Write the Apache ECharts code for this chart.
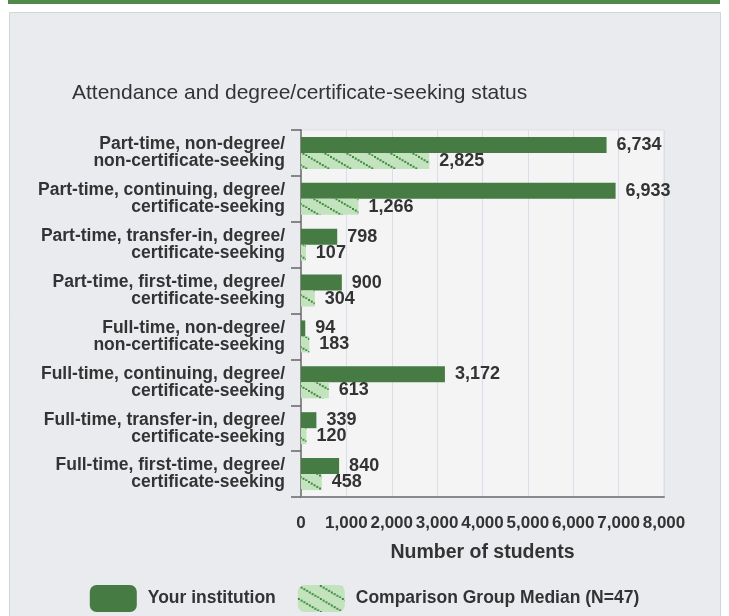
<!DOCTYPE html>
<html>
<head>
<meta charset="utf-8">
<script src="https://cdn.jsdelivr.net/npm/echarts@6/dist/echarts.min.js"></script>
<style>
  html, body { margin: 0; padding: 0; background: #ffffff; }
  #chart { width: 729px; height: 616px; }
</style>
</head>
<body>
<div id="chart"></div>
<script>
  // categories, top to bottom
  var categories = [
    'Part-time, non-degree/\nnon-certificate-seeking',
    'Part-time, continuing, degree/\ncertificate-seeking',
    'Part-time, transfer-in, degree/\ncertificate-seeking',
    'Part-time, first-time, degree/\ncertificate-seeking',
    'Full-time, non-degree/\nnon-certificate-seeking',
    'Full-time, continuing, degree/\ncertificate-seeking',
    'Full-time, transfer-in, degree/\ncertificate-seeking',
    'Full-time, first-time, degree/\ncertificate-seeking'
  ]
  var institutionValues = [6734, 6933, 798, 900, 94, 3172, 339, 840]
  var medianValues = [2825, 1266, 107, 304, 183, 613, 120, 458]
  var seriesNames = ['Your institution', 'Comparison Group Median (N=47)']

  var font = '"Liberation Sans", Arial, sans-serif'

  // hatched fill for the comparison bars
  function makeHatch() {
    var c = document.createElement('canvas')
    c.width = 22
    c.height = 13
    var ctx = c.getContext('2d')
    ctx.fillStyle = '#c3e3bf'
    ctx.fillRect(0, 0, 22, 13)
    ctx.fillStyle = '#3f8a3c'
    for (var k = 0; k < 8; k++) {
      var x = k * 22 / 8
      var y = k * 13 / 8
      ctx.fillRect(x, y, 2, 2)
    }
    return c
  }

  var chart = echarts.init(document.getElementById('chart'))

  var valueLabel = {
    show: true,
    position: 'right',
    distance: 10,
    color: '#333',
    fontFamily: font,
    fontWeight: 'bold',
    fontSize: 18,
    formatter: function (p) {
      return p.value.toLocaleString('en-US')
    }
  }

  chart.setOption({
    animation: false,
    graphic: [
      {
        type: 'rect', z: -10,
        shape: {x: 8, y: 0, width: 712, height: 4},
        style: {fill: '#4f8a4b'}
      },
      {
        type: 'rect', z: -10,
        shape: {x: 9.5, y: 12.5, width: 711, height: 610},
        style: {fill: '#eaebef', stroke: '#d3d4d8', lineWidth: 1}
      }
    ],
    title: {
      text: 'Attendance and degree/certificate-seeking status',
      left: 67,
      top: 78,
      textStyle: {
        fontFamily: font,
        fontWeight: 'normal',
        fontSize: 21,
        color: '#333'
      }
    },
    legend: {
      top: 580,
      left: 'center',
      icon: 'roundRect',
      itemWidth: 47,
      itemHeight: 27,
      itemGap: 22,
      data: seriesNames,
      textStyle: {
        fontFamily: font,
        fontWeight: 'bold',
        fontSize: 17.5,
        color: '#333',
        padding: [0, 0, 0, 6]
      }
    },
    grid: {
      left: 301,
      right: 65,
      top: 130,
      bottom: 119,
      show: true,
      backgroundColor: '#f4f4f5',
      borderColor: '#dcdfe5',
      borderWidth: 1
    },
    xAxis: {
      type: 'value',
      min: 0,
      max: 8000,
      interval: 1000,
      name: 'Number of students',
      nameLocation: 'middle',
      nameGap: 46,
      nameTextStyle: {
        fontFamily: font,
        fontWeight: 'bold',
        fontSize: 19.5,
        color: '#333'
      },
      axisLine: {show: true, lineStyle: {color: '#8a8a8a', width: 2}},
      axisTick: {show: false},
      splitLine: {lineStyle: {color: '#d8dfea', width: 1}},
      axisLabel: {
        margin: 18,
        fontFamily: font,
        fontWeight: 'bold',
        fontSize: 17,
        color: '#333',
        formatter: function (v) {
          return v.toLocaleString('en-US')
        }
      }
    },
    yAxis: {
      type: 'category',
      inverse: true,
      data: categories,
      axisLine: {show: true, lineStyle: {color: '#8a8a8a', width: 2}},
      axisTick: {show: true, length: 10, lineStyle: {color: '#666', width: 1.5}},
      axisLabel: {
        margin: 16,
        fontFamily: font,
        fontWeight: 'bold',
        fontSize: 17.5,
        lineHeight: 17,
        color: '#333',
        align: 'right'
      }
    },
    series: [
      {
        name: seriesNames[0],
        type: 'bar',
        barWidth: 16,
        barGap: '0%',
        data: institutionValues,
        itemStyle: {color: '#467b43'},
        label: valueLabel
      },
      {
        name: seriesNames[1],
        type: 'bar',
        barWidth: 16,
        barGap: '0%',
        data: medianValues,
        itemStyle: {color: {image: makeHatch(), repeat: 'repeat'}},
        label: valueLabel
      }
    ]
  })
</script>
</body>
</html>
